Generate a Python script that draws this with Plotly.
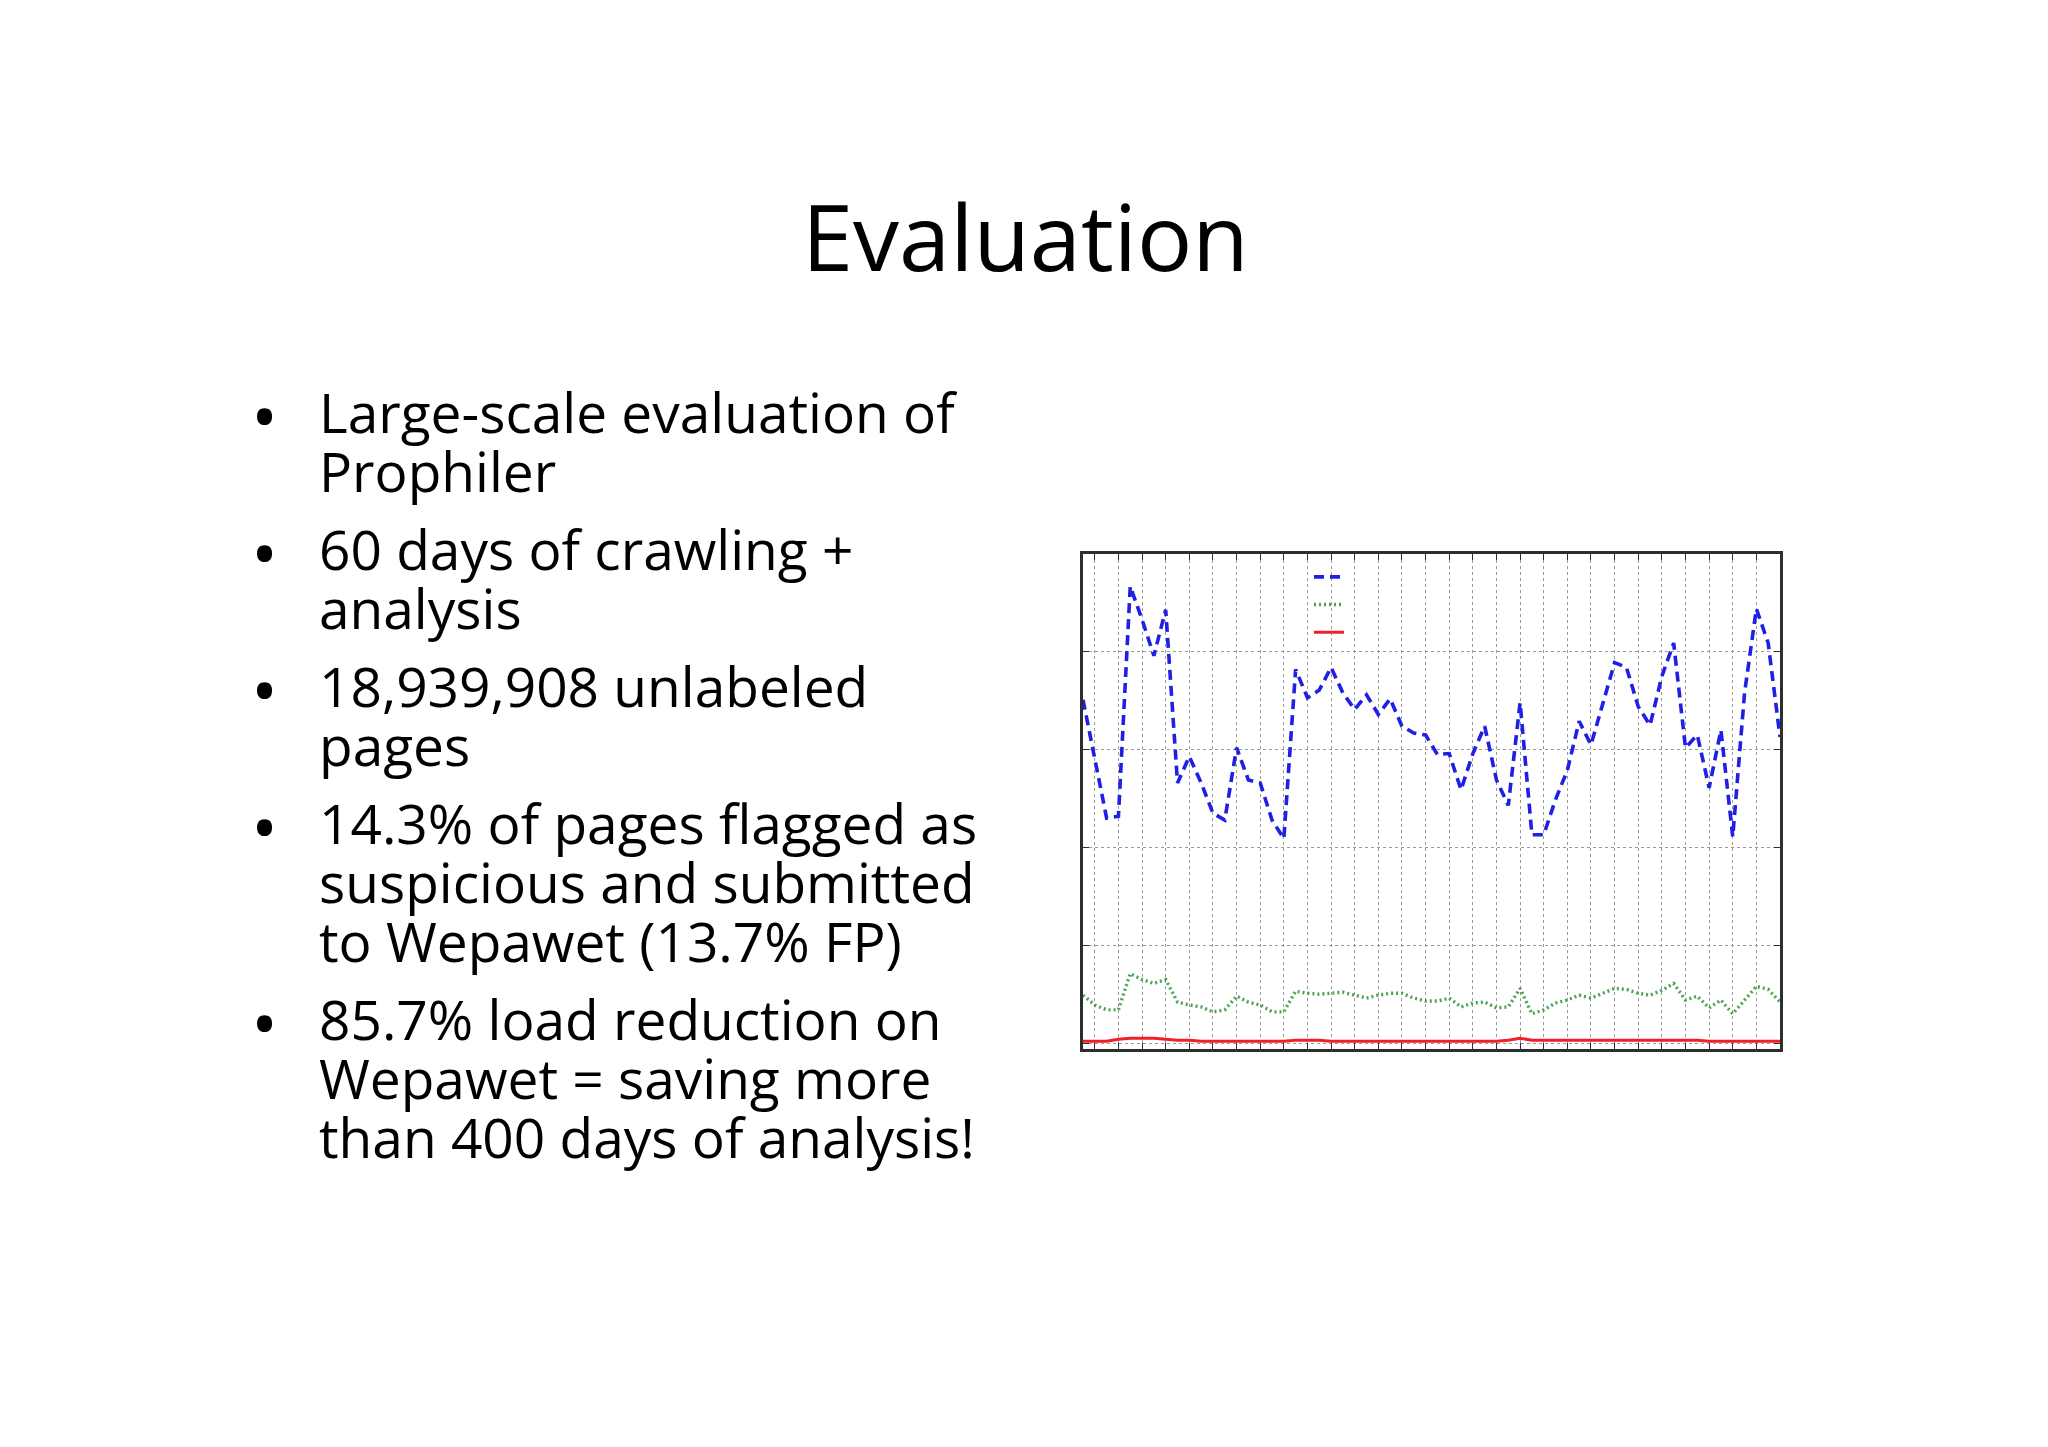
import plotly.graph_objects as go

W, H = 2048, 1447

# slide text
title = 'Evaluation'
bullet_lines = [
    ['Large-scale evaluation of', 'Prophiler'],
    ['60 days of crawling +', 'analysis'],
    ['18,939,908 unlabeled', 'pages'],
    ['14.3% of pages flagged as', 'suspicious and submitted', 'to Wepawet (13.7% FP)'],
    ['85.7% load reduction on', 'Wepawet = saving more', 'than 400 days of analysis!'],
]

# chart data (one point per crawling day)
days = list(range(1, 61))
pages_crawled = [3.51, 2.90, 2.30, 2.32, 4.67, 4.33, 3.96, 4.43, 2.66, 2.93,
                 2.66, 2.35, 2.28, 3.02, 2.69, 2.66, 2.28, 2.09, 3.82, 3.53,
                 3.61, 3.84, 3.58, 3.41, 3.56, 3.36, 3.52, 3.24, 3.17, 3.15,
                 2.95, 2.96, 2.59, 2.96, 3.24, 2.69, 2.43, 3.48, 2.13, 2.13,
                 2.49, 2.79, 3.29, 3.05, 3.48, 3.89, 3.84, 3.44, 3.25, 3.75,
                 4.09, 3.02, 3.15, 2.61, 3.20, 2.11, 3.58, 4.44, 4.09, 3.13]
pages_suspicious = [0.49, 0.39, 0.34, 0.34, 0.71, 0.65, 0.61, 0.65, 0.42, 0.39,
                    0.37, 0.32, 0.34, 0.48, 0.42, 0.39, 0.32, 0.32, 0.53, 0.51,
                    0.50, 0.51, 0.52, 0.49, 0.46, 0.49, 0.51, 0.51, 0.46, 0.43,
                    0.43, 0.46, 0.37, 0.41, 0.42, 0.36, 0.37, 0.56, 0.30, 0.34,
                    0.41, 0.44, 0.49, 0.46, 0.51, 0.56, 0.55, 0.51, 0.49, 0.54,
                    0.61, 0.44, 0.48, 0.36, 0.44, 0.30, 0.44, 0.58, 0.55, 0.42]
pages_malicious = [0.02, 0.02, 0.02, 0.04, 0.05, 0.05, 0.05, 0.04, 0.03, 0.03,
                   0.02, 0.02, 0.02, 0.02, 0.02, 0.02, 0.02, 0.02, 0.03, 0.03,
                   0.03, 0.02, 0.02, 0.02, 0.02, 0.02, 0.02, 0.02, 0.02, 0.02,
                   0.02, 0.02, 0.02, 0.02, 0.02, 0.02, 0.03, 0.05, 0.03, 0.03,
                   0.035, 0.035, 0.035, 0.035, 0.035, 0.035, 0.035, 0.035, 0.035, 0.035,
                   0.035, 0.035, 0.03, 0.02, 0.02, 0.02, 0.02, 0.02, 0.02, 0.02]
x_ticks = list(range(2, 60, 2))
y_ticks = [0, 1, 2, 3, 4, 5]


def px_x(v):
    return v / W


def px_y(v):
    return 1 - v / H


fig = go.Figure()
fig.add_trace(go.Scatter(x=days, y=pages_crawled, mode='lines', name=' ',
                         line=dict(color='#1f1fe6', width=3.6, dash='10px,6px')))
fig.add_trace(go.Scatter(x=days, y=pages_suspicious, mode='lines', name=' ',
                         line=dict(color='#4aa24f', width=3.4, dash='2px,3px')))
fig.add_trace(go.Scatter(x=days, y=pages_malicious, mode='lines', name=' ',
                         line=dict(color='#f0202a', width=3)))

axis_common = dict(showline=True, mirror='allticks', linecolor='#2e2e2e', linewidth=2.5,
                   ticks='inside', ticklen=6, tickcolor='#2e2e2e', showticklabels=False,
                   showgrid=True, gridcolor='#999999', griddash='dot', gridwidth=1.3,
                   zeroline=False)

fig.update_xaxes(range=[1, 60], tickvals=x_ticks, domain=[px_x(1083), px_x(1780)], **axis_common)
fig.update_yaxes(range=[-0.06, 5.0], tickvals=y_ticks, domain=[px_y(1049), px_y(554)], **axis_common)

# title and bullet text
annotations = [dict(text=title, x=px_x(1025), y=px_y(271 - 0.388 * 92), xref='paper', yref='paper',
                    xanchor='center', yanchor='middle', showarrow=False, borderpad=0,
                    font=dict(family='Open Sans', size=92, color='black'))]
size = 55
baseline = 435
for lines in bullet_lines:
    annotations.append(dict(text='\u2022', x=px_x(264), y=px_y(baseline - 20),
                            xref='paper', yref='paper', xanchor='center', yanchor='middle',
                            showarrow=False, borderpad=0, borderwidth=0,
                            font=dict(family='Open Sans', size=72, color='black')))
    for line in lines:
        annotations.append(dict(text=line, x=px_x(319), y=px_y(baseline - 0.388 * size - 2),
                                xref='paper', yref='paper', xanchor='left', yanchor='middle',
                                showarrow=False, borderpad=0, borderwidth=0,
                                font=dict(family='Open Sans', size=size, color='black')))
        baseline += 59
    baseline += 19

fig.update_layout(width=W, height=H, margin=dict(l=0, r=0, t=0, b=0),
                  paper_bgcolor='white', plot_bgcolor='white',
                  annotations=annotations, showlegend=True,
                  legend=dict(x=px_x(1309), y=px_y(558), xanchor='left', yanchor='top',
                              bgcolor='rgba(0,0,0,0)', font=dict(size=19),
                              itemwidth=30))

fig.write_html("out.html", config={'displayModeBar': False},
               post_script="document.body.style.margin = '0px';")
